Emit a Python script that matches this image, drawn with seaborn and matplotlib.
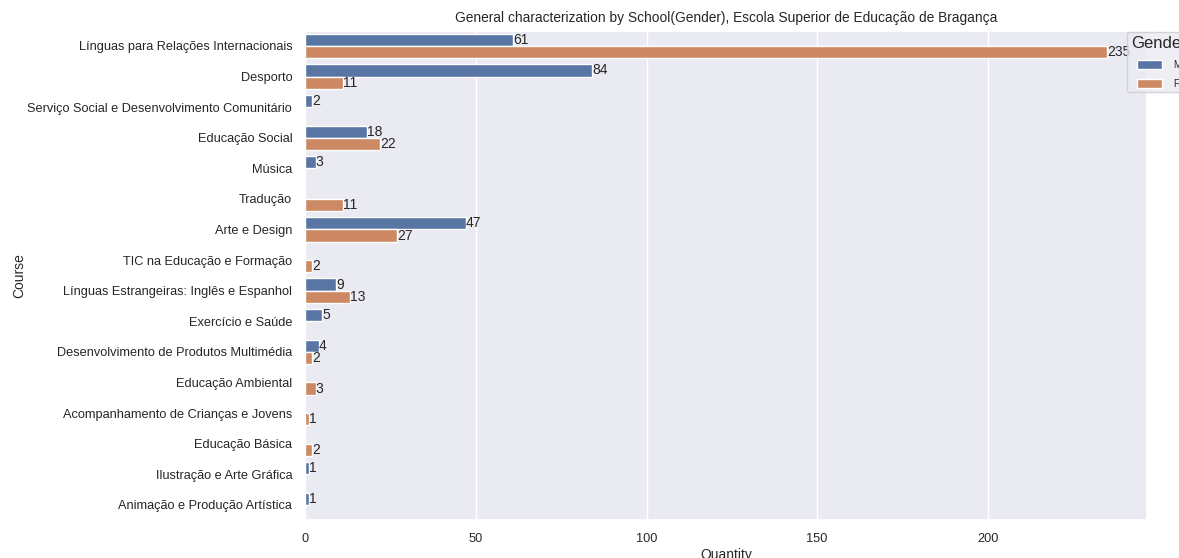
import numpy as np
import pandas as pd
import seaborn as sns
import matplotlib.pyplot as plt

courses = [
    'Línguas para Relações Internacionais',
    'Desporto',
    'Serviço Social e Desenvolvimento Comunitário',
    'Educação Social',
    'Música',
    'Tradução',
    'Arte e Design',
    'TIC na Educação e Formação',
    'Línguas Estrangeiras: Inglês e Espanhol',
    'Exercício e Saúde',
    'Desenvolvimento de Produtos Multimédia',
    'Educação Ambiental',
    'Acompanhamento de Crianças e Jovens',
    'Educação Básica',
    'Ilustração e Arte Gráfica',
    'Animação e Produção Artística',
]
# None = no students of that gender in the course
male = [61, 84, 2, 18, 3, None, 47, None, 9, 5, 4, None, None, None, 1, 1]
female = [235, 11, None, 22, None, 11, 27, 2, 13, None, 2, 3, 1, 2, None, None]

rows = []
for c, m, f in zip(courses, male, female):
    if m is not None:
        rows.append({'Course': c, 'Gender': 'M', 'Quantity': m})
    if f is not None:
        rows.append({'Course': c, 'Gender': 'F', 'Quantity': f})
df = pd.DataFrame(rows)

sns.set_theme(style='darkgrid')
plt.rcParams['font.family'] = ['Liberation Sans', 'DejaVu Sans']

fig = plt.figure(figsize=(11.79, 5.58), dpi=100)
ax = fig.add_axes([0.259, 0.068, 0.714, 0.877])
sns.barplot(data=df, y='Course', x='Quantity', hue='Gender', order=courses,
            hue_order=['M', 'F'], orient='h', ax=ax)

for cont in ax.containers:
    ax.bar_label(cont, fontsize=10, color='#262626', padding=0)

ax.set_title('General characterization by School(Gender), Escola Superior de Educação de Bragança',
             fontsize=9.9, color='#262626')
ax.set_xlabel('Quantity', fontsize=10, labelpad=2)
ax.set_ylabel('Course', fontsize=10)
ax.yaxis.set_label_coords(-0.332, 0.5)
ax.tick_params(axis='both', labelsize=9.2)
ax.set_xticks([0, 50, 100, 150, 200])

# legend partly runs off the right edge, like in the original screenshot
leg = ax.legend(title='Gender', loc='upper left', bbox_to_anchor=(0.9765, 0.997),
                borderaxespad=0, fontsize=7, title_fontsize=12, frameon=True,
                handlelength=2.6, handleheight=1.0, labelspacing=0.9,
                handletextpad=1.2)

fig.savefig('out.png', dpi=100)
